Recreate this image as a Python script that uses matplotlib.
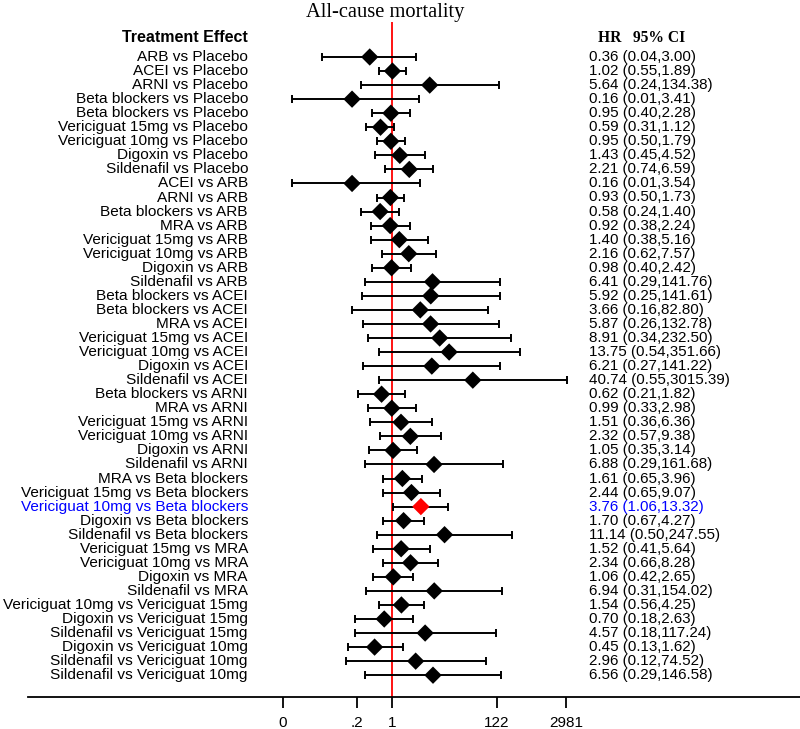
import numpy as np
import matplotlib
matplotlib.use("Agg")
import matplotlib.pyplot as plt
import matplotlib.transforms as mtransforms

# comparacoes, HR e IC 95%
comparacoes = [
    "ARB vs Placebo", "ACEI vs Placebo", "ARNI vs Placebo",
    "Beta blockers vs Placebo", "Beta blockers vs Placebo",
    "Vericiguat 15mg vs Placebo", "Vericiguat 10mg vs Placebo",
    "Digoxin vs Placebo", "Sildenafil vs Placebo",
    "ACEI vs ARB", "ARNI vs ARB", "Beta blockers vs ARB", "MRA vs ARB",
    "Vericiguat 15mg vs ARB", "Vericiguat 10mg vs ARB", "Digoxin vs ARB",
    "Sildenafil vs ARB",
    "Beta blockers vs ACEI", "Beta blockers vs ACEI", "MRA vs ACEI",
    "Vericiguat 15mg vs ACEI", "Vericiguat 10mg vs ACEI", "Digoxin vs ACEI",
    "Sildenafil vs ACEI",
    "Beta blockers vs ARNI", "MRA vs ARNI", "Vericiguat 15mg vs ARNI",
    "Vericiguat 10mg vs ARNI", "Digoxin vs ARNI", "Sildenafil vs ARNI",
    "MRA vs Beta blockers", "Vericiguat 15mg vs Beta blockers",
    "Vericiguat 10mg vs Beta blockers", "Digoxin vs Beta blockers",
    "Sildenafil vs Beta blockers",
    "Vericiguat 15mg vs MRA", "Vericiguat 10mg vs MRA", "Digoxin vs MRA",
    "Sildenafil vs MRA",
    "Vericiguat 10mg vs Vericiguat 15mg", "Digoxin vs Vericiguat 15mg",
    "Sildenafil vs Vericiguat 15mg", "Digoxin vs Vericiguat 10mg",
    "Sildenafil vs Vericiguat 10mg", "Sildenafil vs Vericiguat 10mg",
]
hr = [0.36, 1.02, 5.64, 0.16, 0.95, 0.59, 0.95, 1.43, 2.21,
      0.16, 0.93, 0.58, 0.92, 1.40, 2.16, 0.98, 6.41,
      5.92, 3.66, 5.87, 8.91, 13.75, 6.21, 40.74,
      0.62, 0.99, 1.51, 2.32, 1.05, 6.88,
      1.61, 2.44, 3.76, 1.70, 11.14,
      1.52, 2.34, 1.06, 6.94,
      1.54, 0.70, 4.57, 0.45, 2.96, 6.56]
ic_inf = [0.04, 0.55, 0.24, 0.01, 0.40, 0.31, 0.50, 0.45, 0.74,
          0.01, 0.50, 0.24, 0.38, 0.38, 0.62, 0.40, 0.29,
          0.25, 0.16, 0.26, 0.34, 0.54, 0.27, 0.55,
          0.21, 0.33, 0.36, 0.57, 0.35, 0.29,
          0.65, 0.65, 1.06, 0.67, 0.50,
          0.41, 0.66, 0.42, 0.31,
          0.56, 0.18, 0.18, 0.13, 0.12, 0.29]
ic_sup = [3.00, 1.89, 134.38, 3.41, 2.28, 1.12, 1.79, 4.52, 6.59,
          3.54, 1.73, 1.40, 2.24, 5.16, 7.57, 2.42, 141.76,
          141.61, 82.80, 132.78, 232.50, 351.66, 141.22, 3015.39,
          1.82, 2.98, 6.36, 9.38, 3.14, 161.68,
          3.96, 9.07, 13.32, 4.27, 247.55,
          5.64, 8.28, 2.65, 154.02,
          4.25, 2.63, 117.24, 1.62, 74.52, 146.58]
destaque = 32  # Vericiguat 10mg vs Beta blockers

tick_pos = [np.exp(-5.0), 0.2, 1, 122, 2981]
tick_lbl = ["0", ".2", "1", "122", "2981"]

W, H = 800, 729
fig = plt.figure(figsize=(W / 100, H / 100), dpi=100)
# eixo: de x=28 a x=800 px, linha base em y=697 px, topo em 22 px
ax = fig.add_axes([28 / W, (H - 697) / H, (800 - 28) / W, (697 - 22) / H])

escala = 21.8   # px por unidade de ln
x0 = 392        # posicao do HR = 1
ax.set_xscale("log")
ax.set_xlim(np.exp((28 - x0) / escala), np.exp((800 - x0) / escala))
y_topo = 57
passo = 14.05
ax.set_ylim((697 - y_topo) / passo, (22 - y_topo) / passo)

n = len(hr)
y = np.arange(n)
hr_a = np.array(hr)
lo = hr_a - np.array(ic_inf)
hi = np.array(ic_sup) - hr_a

ax.errorbar(hr_a, y, xerr=[lo, hi], fmt="none", ecolor="black",
            elinewidth=1.4, capsize=2.6, capthick=1.4, zorder=2)
cores = ["red" if i == destaque else "black" for i in range(n)]
ax.scatter(hr_a, y, marker="D", s=78, c=cores, zorder=3, linewidths=0)
ax.axvline(1, color="red", linewidth=1.3, zorder=1)

trans = mtransforms.blended_transform_factory(fig.transFigure, ax.transData)
for i in range(n):
    cor = "blue" if i == destaque else "black"
    ax.text(248 / W, i, comparacoes[i], transform=trans, ha="right",
            va="center", fontsize=11.1, family="Liberation Sans", color=cor)
    txt = f"{hr[i]:.2f} ({ic_inf[i]:.2f},{ic_sup[i]:.2f})"
    ax.text(589 / W, i, txt, transform=trans, ha="left", va="center",
            fontsize=10.9, family="Liberation Sans", color=cor)

y_cab = (38 - y_topo) / passo
ax.text(248 / W, y_cab, "Treatment Effect", transform=trans, ha="right",
        va="center", fontsize=11.5, family="Liberation Sans", weight="bold")
ax.text(598 / W, y_cab, "HR   95% CI", transform=trans, ha="left",
        va="center", fontsize=11.2, family="Liberation Serif", weight="bold")
fig.text(385 / W, (H - 13) / H, "All-cause mortality", ha="center",
         va="center", fontsize=14.8, family="Liberation Serif")

for s in ["top", "right", "left"]:
    ax.spines[s].set_visible(False)
ax.spines["bottom"].set_linewidth(1.3)
ax.set_yticks([])
ax.set_xticks(tick_pos)
ax.set_xticklabels(tick_lbl, fontsize=11, family="Liberation Sans")
ax.minorticks_off()
ax.tick_params(axis="x", direction="out", length=8, width=1.3, pad=6)

fig.savefig("out.png", dpi=100)
